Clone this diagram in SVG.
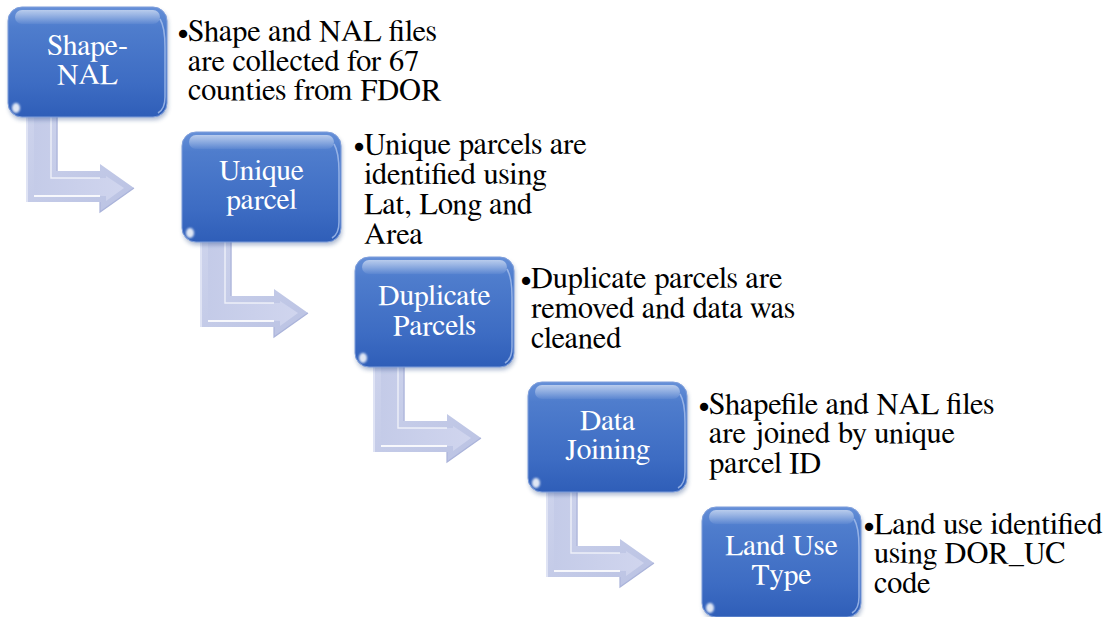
<svg xmlns="http://www.w3.org/2000/svg" width="1112" height="617" viewBox="0 0 1112 617">
  <defs>
    <linearGradient id="boxGrad" x1="0" y1="0" x2="0" y2="1">
      <stop offset="0" stop-color="#6690d8"/>
      <stop offset="0.18" stop-color="#4f7dcd"/>
      <stop offset="0.7" stop-color="#3d6cc3"/>
      <stop offset="1" stop-color="#2f5eb8"/>
    </linearGradient>
    <linearGradient id="topGloss" x1="0" y1="0" x2="0" y2="1">
      <stop offset="0" stop-color="#ffffff" stop-opacity="0.55"/>
      <stop offset="1" stop-color="#ffffff" stop-opacity="0.05"/>
    </linearGradient>
    <linearGradient id="arrowGrad" x1="0" y1="0" x2="1" y2="1">
      <stop offset="0" stop-color="#cdd3ec"/>
      <stop offset="1" stop-color="#bac2e3"/>
    </linearGradient>
    <linearGradient id="arrowFace" x1="0" y1="0" x2="1" y2="0">
      <stop offset="0" stop-color="#c4cbe8"/>
      <stop offset="1" stop-color="#d0d5ee"/>
    </linearGradient>
    <filter id="soft" x="-50%" y="-50%" width="200%" height="200%">
      <feGaussianBlur stdDeviation="1.2"/>
    </filter>
    <filter id="shadow" x="-10%" y="-10%" width="120%" height="130%">
      <feGaussianBlur stdDeviation="2"/>
    </filter>

    <!-- bent arrow, origin at the bottom-left corner of the box above it -->
    <g id="bentArrow">
      <polygon points="19,0 49,0 49,54 92,54 92,47 126,71 92,95 92,85 19,85" fill="url(#arrowGrad)"/>
      <!-- bevelled inner face -->
      <polygon points="26,0 43,0 43,61 98,61 98,59 116,71 98,84 98,79 26,79" fill="url(#arrowFace)"/>
      <!-- bevel highlights -->
      <polyline points="43,0 43,61 92,61" fill="none" stroke="#ffffff" stroke-opacity="0.7" stroke-width="1.4"/>
      <polyline points="26,79 92,79" fill="none" stroke="#ffffff" stroke-opacity="0.85" stroke-width="2"/>
      <polyline points="19,0 19,85" fill="none" stroke="#dfe3f4" stroke-width="2"/>
      <polyline points="92,85 92,95 126,71" fill="none" stroke="#aab3da" stroke-width="1.2"/>
      <polyline points="49,0 49,54" fill="none" stroke="#b0b8dc" stroke-width="1.5"/>
    </g>

    <!-- glossy rounded box -->
    <g id="box">
      <rect x="1" y="3" width="159" height="110" rx="14" fill="#1c3f80" opacity="0.35" filter="url(#shadow)"/>
      <rect x="0" y="0" width="159" height="110" rx="14" fill="url(#boxGrad)" stroke="#7e9edb" stroke-width="1"/>
      <rect x="7" y="3" width="145" height="14" rx="7" fill="url(#topGloss)"/>
      <path d="M152,12 Q157,20 157,40 L157,90 Q157,102 150,106" fill="none" stroke="#a9c0ec" stroke-width="1.5" opacity="0.8"/>
      <ellipse cx="8" cy="101" rx="4" ry="5" fill="#ffffff" opacity="0.85" filter="url(#soft)"/>
    </g>
  </defs>

  <style>
    .label { font-size: 29.6px; fill: #ffffff; text-anchor: middle; }
    .desc { font-size: 30.4px; fill: #000000; }
  </style>

  <rect x="0" y="0" width="1112" height="617" fill="#ffffff"/>

  <!-- connectors: bent arrows leading from each step to the next -->
  <g id="connectors">
    <use href="#bentArrow" transform="translate(8,117)"/>
    <use href="#bentArrow" transform="translate(182,242)"/>
    <use href="#bentArrow" transform="translate(355,367)"/>
    <use href="#bentArrow" transform="translate(528,492)"/>
  </g>

  <g id="nodes" font-family="FreeSerif, 'DejaVu Serif', serif">
    <g id="node-shape-nal">
      <use href="#box" transform="translate(8,7)"/>
      <text class="label" x="87.5" y="55">Shape-</text>
      <text class="label" x="87.5" y="84">NAL</text>
      <text class="desc" x="177" y="41">•</text>
      <text class="desc" x="188" y="41">Shape and NAL files</text>
      <text class="desc" x="188" y="71">are collected for 67</text>
      <text class="desc" x="188" y="100">counties from FDOR</text>
    </g>

    <g id="node-unique-parcel">
      <use href="#box" transform="translate(182,132)"/>
      <text class="label" x="261.5" y="180">Unique</text>
      <text class="label" x="261.5" y="209">parcel</text>
      <text class="desc" x="353" y="154">•</text>
      <text class="desc" x="364" y="154">Unique parcels are</text>
      <text class="desc" x="364" y="184">identified using</text>
      <text class="desc" x="364" y="214">Lat, Long and</text>
      <text class="desc" x="364" y="244">Area</text>
    </g>

    <g id="node-duplicate-parcels">
      <use href="#box" transform="translate(355,257)"/>
      <text class="label" x="434.5" y="305">Duplicate</text>
      <text class="label" x="434.5" y="335">Parcels</text>
      <text class="desc" x="520" y="288">•</text>
      <text class="desc" x="531" y="288">Duplicate parcels are</text>
      <text class="desc" x="531" y="318">removed and data was</text>
      <text class="desc" x="531" y="348">cleaned</text>
    </g>

    <g id="node-data-joining">
      <use href="#box" transform="translate(528,382)"/>
      <text class="label" x="607.5" y="430">Data</text>
      <text class="label" x="607.5" y="459">Joining</text>
      <text class="desc" x="698" y="414">•</text>
      <text class="desc" x="709" y="414">Shapefile and NAL files</text>
      <text class="desc" x="709" y="443">are joined by unique</text>
      <text class="desc" x="709" y="473">parcel ID</text>
    </g>

    <g id="node-land-use-type">
      <use href="#box" transform="translate(702,507)"/>
      <text class="label" x="781.5" y="555">Land Use</text>
      <text class="label" x="781.5" y="584">Type</text>
      <text class="desc" x="863" y="534">•</text>
      <text class="desc" x="874" y="534">Land use identified</text>
      <text class="desc" x="874" y="563">using DOR_UC</text>
      <text class="desc" x="874" y="593">code</text>
    </g>
  </g>
</svg>
